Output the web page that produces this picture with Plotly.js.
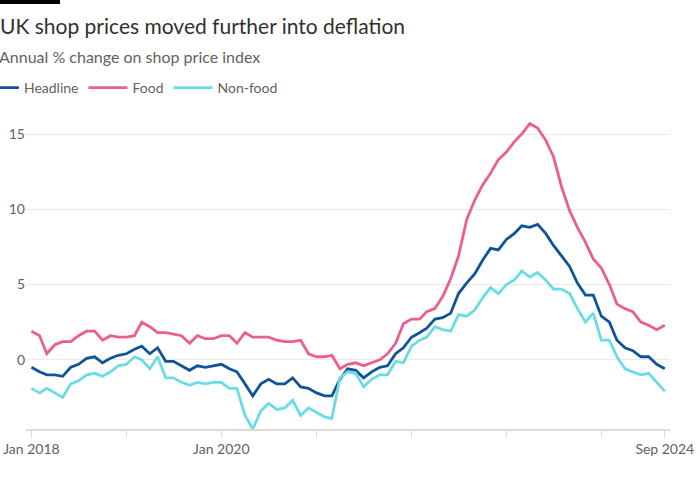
<!DOCTYPE html>
<html>
<head>
<meta charset="utf-8">
<script src="https://cdn.plot.ly/plotly-3.0.1.min.js"></script>
<style>
  html, body { margin: 0; padding: 0; background: #ffffff; }
  #chart { width: 700px; height: 500px; }
</style>
</head>
<body>
<div id="chart"></div>
<script>
// Monthly dates Jan 2018 .. Sep 2024
const startYear = 2018;
const nMonths = 81;
const months = [];
for (let i = 0; i < nMonths; i++) {
  const y = startYear + Math.floor(i / 12);
  const m = (i % 12) + 1;
  months.push(y + '-' + String(m).padStart(2, '0') + '-01');
}

const seriesNames = ['Headline', 'Food', 'Non-food'];

const headline = [
  -0.5, -0.8, -1.0, -1.0, -1.1, -0.5, -0.3, 0.1, 0.2, -0.2, 0.1, 0.3,
  0.4, 0.7, 0.9, 0.4, 0.8, -0.1, -0.1, -0.4, -0.7, -0.4, -0.5, -0.4,
  -0.3, -0.6, -0.8, -1.6, -2.4, -1.6, -1.3, -1.6, -1.6, -1.2, -1.8, -1.9,
  -2.2, -2.4, -2.4, -1.3, -0.6, -0.7, -1.2, -0.8, -0.5, -0.4, 0.4, 0.8,
  1.5, 1.8, 2.1, 2.7, 2.8, 3.1, 4.4, 5.1, 5.7, 6.6, 7.4, 7.3,
  8.0, 8.4, 8.9, 8.8, 9.0, 8.4, 7.6, 6.9, 6.2, 5.1, 4.3, 4.3,
  2.9, 2.5, 1.3, 0.8, 0.6, 0.2, 0.2, -0.3, -0.6
];

const food = [
  1.9, 1.6, 0.4, 1.0, 1.2, 1.2, 1.6, 1.9, 1.9, 1.3, 1.6, 1.5,
  1.5, 1.6, 2.5, 2.2, 1.8, 1.8, 1.7, 1.6, 1.1, 1.6, 1.4, 1.4,
  1.6, 1.6, 1.1, 1.8, 1.5, 1.5, 1.5, 1.3, 1.2, 1.2, 1.3, 0.4,
  0.2, 0.2, 0.3, -0.6, -0.3, -0.2, -0.4, -0.2, 0.0, 0.4, 1.1, 2.4,
  2.7, 2.7, 3.2, 3.4, 4.2, 5.4, 6.9, 9.3, 10.6, 11.6, 12.4, 13.3,
  13.8, 14.5, 15.0, 15.7, 15.4, 14.6, 13.5, 11.5, 9.9, 8.8, 7.8, 6.7,
  6.1, 5.0, 3.7, 3.4, 3.2, 2.5, 2.3, 2.0, 2.3
];

const nonFood = [
  -1.9, -2.2, -1.9, -2.2, -2.5, -1.6, -1.4, -1.0, -0.9, -1.1, -0.8, -0.4,
  -0.3, 0.2, 0.0, -0.6, 0.2, -1.2, -1.2, -1.5, -1.7, -1.5, -1.6, -1.5,
  -1.5, -1.9, -1.9, -3.7, -4.6, -3.4, -2.9, -3.3, -3.2, -2.7, -3.7, -3.2,
  -3.5, -3.8, -3.9, -1.2, -0.8, -0.9, -1.8, -1.3, -1.0, -1.0, -0.1, -0.2,
  0.9, 1.3, 1.5, 2.2, 2.0, 1.9, 3.0, 2.9, 3.3, 4.1, 4.8, 4.4,
  5.0, 5.3, 5.9, 5.5, 5.8, 5.3, 4.7, 4.7, 4.4, 3.4, 2.5, 3.1,
  1.3, 1.3, 0.2, -0.6, -0.8, -1.0, -0.9, -1.5, -2.1
];

const xTickVals = ['2018-01-01', '2019-01-01', '2020-01-01', '2021-01-01', '2022-01-01', '2023-01-01', '2024-01-01', '2024-09-01'];
const xTickText = ['Jan 2018', '', 'Jan 2020', '', '', '', '', 'Sep 2024'];
const yTickVals = [0, 5, 10, 15];
const yTickText = ['0', '5', '10', '15'];

const colors = ['#0f5499', '#eb5e8d', '#6bdbe5'];
const values = [headline, food, nonFood];

const FONT = 'Lato, "Open Sans", sans-serif';

const traces = seriesNames.map((name, k) => ({
  type: 'scatter',
  mode: 'lines',
  name: name,
  x: months,
  y: values[k],
  line: { color: colors[k], width: 2.8 },
  hoverinfo: 'skip'
}));

const layout = {
  width: 700,
  height: 500,
  paper_bgcolor: '#ffffff',
  plot_bgcolor: '#ffffff',
  margin: { l: 26, r: 30, t: 116, b: 71, autoexpand: false },
  font: { family: FONT, color: '#66605c', size: 14 },
  title: {
    text: 'UK shop prices moved further into deflation',
    font: { family: FONT, size: 21, color: '#33302e' },
    xref: 'container', x: 0, xanchor: 'left',
    yref: 'container', y: 0.946, yanchor: 'middle',
    pad: { l: 0, r: 0, t: 0, b: 0 }
  },
  showlegend: true,
  legend: {
    orientation: 'h',
    x: -0.0793, xanchor: 'left',
    y: 1.0895, yanchor: 'middle',
    itemwidth: 39,
    font: { family: FONT, size: 14, color: '#66605c' },
    bgcolor: 'rgba(0,0,0,0)',
    traceorder: 'normal'
  },
  xaxis: {
    type: 'date',
    automargin: false,
    range: ['2017-12-11', '2024-09-21'],
    tickmode: 'array',
    tickvals: xTickVals,
    ticktext: xTickText,
    ticks: 'outside',
    ticklen: 7,
    tickwidth: 1,
    tickcolor: '#e0d8d1',
    showgrid: false,
    showline: true,
    linecolor: '#e0d8d1',
    linewidth: 1.5,
    zeroline: false,
    tickfont: { family: FONT, size: 14, color: '#66605c' },
    fixedrange: true
  },
  yaxis: {
    automargin: false,
    range: [-4.6, 16.2],
    tickmode: 'array',
    tickvals: yTickVals,
    ticktext: yTickText,
    ticks: '',
    showgrid: true,
    gridcolor: '#efe9e4',
    gridwidth: 1,
    zeroline: false,
    showline: false,
    tickfont: { family: FONT, size: 14, color: '#66605c' },
    fixedrange: true
  },
  annotations: [
    {
      text: 'Annual % change on shop price index',
      xref: 'paper', yref: 'paper',
      x: -0.0404, xanchor: 'left', xshift: -3,
      y: 1.19, yanchor: 'middle',
      showarrow: false,
      font: { family: FONT, size: 16, color: '#66605c' }
    }
  ],
  shapes: [
    {
      type: 'rect', xref: 'paper', yref: 'paper',
      x0: -0.0404, x1: 0.0528, y0: 1.3578, y1: 1.3706,
      fillcolor: '#000000', line: { width: 0 }
    }
  ]
};

Plotly.newPlot('chart', traces, layout, { displayModeBar: false, staticPlot: true });
</script>
</body>
</html>
